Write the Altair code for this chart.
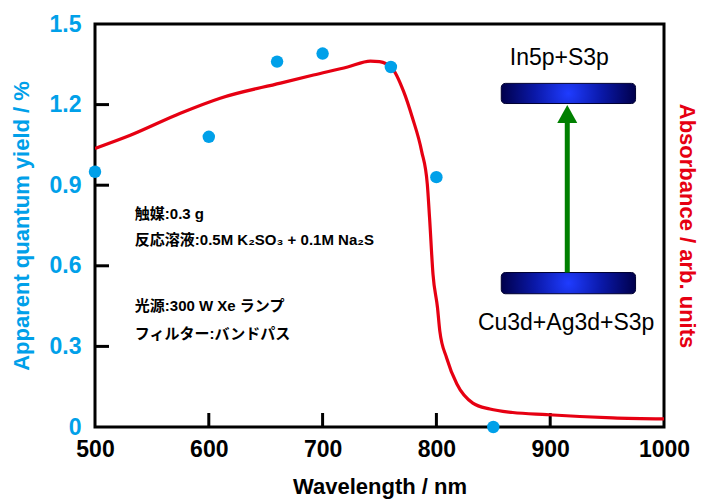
import altair as alt
import pandas as pd

# ---------------- data ----------------
qy_wavelength = [500, 600, 660, 700, 760, 800, 850]
qy_values = [0.95, 1.08, 1.36, 1.39, 1.34, 0.93, 0.0]

abs_wavelength = [500, 531, 575, 610, 663, 692, 722, 742, 750, 761, 771, 779, 787, 792,
                  794, 797, 801, 803, 809, 818, 832, 847, 867, 897, 926, 955, 1000]
abs_values = [1.037, 1.086, 1.168, 1.224, 1.28, 1.31, 1.34, 1.362, 1.36, 1.336, 1.251,
              1.150, 1.027, 0.904, 0.778, 0.569, 0.443, 0.357, 0.257, 0.160, 0.089,
              0.067, 0.054, 0.046, 0.039, 0.034, 0.030]

x_ticks = [500, 600, 700, 800, 900, 1000]
y_ticks = [0, 0.3, 0.6, 0.9, 1.2, 1.5]

conditions = ["触媒:0.3 g", "反応溶液:0.5M K₂SO₃ + 0.1M Na₂S",
              "光源:300 W Xe ランプ", "フィルター:バンドパス"]
level_labels = ["In5p+S3p", "Cu3d+Ag3d+S3p"]

# annotation geometry (data coordinates)
cond_x = 535
cond_y = [0.792, 0.695, 0.449, 0.348]
label_x = [908, 914]
label_y = [1.373, 0.388]
bar_x = [857, 975]
bar_y_low = [1.204, 0.496]
bar_y_high = [1.279, 0.575]
arrow_x = 915
arrow_y = [0.575, 1.14]
head_y = 1.165

BLUE = "#00a0e9"
RED = "#e60012"
GREEN = "#008000"
FONT = "Liberation Sans"
JFONT = "Liberation Sans, Noto Sans CJK JP"

W, H = 569, 403

xscale = alt.Scale(domain=[500, 1000], nice=False, zero=False)
yscale = alt.Scale(domain=[0, 1.5], nice=False, zero=False)

x_axis = alt.Axis(values=x_ticks, format="d", labelFlush=False, domain=False, ticks=False,
                  grid=False, labelFont=FONT, labelFontSize=23, labelFontWeight="bold",
                  labelColor="black", labelPadding=11, labelOverlap=False,
                  title="Wavelength / nm", titleFont=FONT, titleFontSize=22,
                  titleFontWeight="bold", titleColor="black", titleY=59,
                  titleBaseline="middle", titleX=W / 2, titleAlign="center")

y_left_axis = alt.Axis(orient="left", values=y_ticks, format="~g", domain=False, ticks=False,
                       grid=False, labelFont=FONT, labelFontSize=23, labelFontWeight="bold",
                       labelColor=BLUE, labelPadding=14, labelOverlap=False, labelFlush=False,
                       title="Apparent quantum yield / %", titleFont=FONT, titleFontSize=22,
                       titleFontWeight="bold", titleColor=BLUE, titleX=-74, titleY=H / 2,
                       titleBaseline="middle", titleAlign="center")

y_right_axis = alt.Axis(orient="right", labels=False, domain=False, ticks=False, grid=False,
                        title="Absorbance / arb. units", titleFont=FONT, titleFontSize=22,
                        titleFontWeight="bold", titleColor=RED, titleAngle=90, titleX=22,
                        titleY=H / 2, titleBaseline="middle", titleAlign="center")


def X(field):
    return alt.X(field, scale=xscale, axis=x_axis)


qy_df = pd.DataFrame({"wl": qy_wavelength, "qy": qy_values})
abs_df = pd.DataFrame({"wl": abs_wavelength, "a": abs_values})

line = alt.Chart(abs_df).mark_line(color=RED, strokeWidth=3.2, interpolate="monotone", clip=True).encode(
    x=X("wl:Q"),
    y=alt.Y("a:Q", scale=yscale, axis=y_right_axis),
)

points = alt.Chart(qy_df).mark_circle(color=BLUE, size=155, opacity=1).encode(
    x=X("wl:Q"),
    y=alt.Y("qy:Q", scale=yscale, axis=y_left_axis),
)

ytick_df = pd.DataFrame({"v": y_ticks[1:-1]})
yticks = alt.Chart(ytick_df).mark_rule(color="black", strokeWidth=3).encode(
    x=alt.value(0), x2=alt.value(14),
    y=alt.Y("v:Q", scale=yscale, axis=None),
)
xtick_df = pd.DataFrame({"v": x_ticks[1:-1]})
xticks = alt.Chart(xtick_df).mark_rule(color="black", strokeWidth=3).encode(
    x=X("v:Q"),
    y=alt.value(H), y2=alt.value(H - 14),
)

cond_df = pd.DataFrame({"t": conditions, "x": [cond_x] * len(conditions), "y": cond_y})
cond_text = alt.Chart(cond_df).mark_text(font=JFONT, fontSize=15, fontWeight="bold",
                                         align="left", baseline="middle", color="black").encode(
    x=X("x:Q"),
    y=alt.Y("y:Q", scale=yscale, axis=None),
    text="t:N",
)

bar_df = pd.DataFrame({"x": [bar_x[0]] * 2, "x2": [bar_x[1]] * 2, "y": bar_y_low, "y2": bar_y_high})
bars = alt.Chart(bar_df).mark_rect(
    fill=alt.RadialGradient(gradient="radial", stops=[
        alt.GradientStop(offset=0, color="#1f3cff"),
        alt.GradientStop(offset=0.5, color="#0a18a8"),
        alt.GradientStop(offset=1, color="#00004c"),
    ]),
    stroke="#000030", strokeWidth=1, cornerRadius=4,
).encode(
    x=X("x:Q"), x2="x2:Q",
    y=alt.Y("y:Q", scale=yscale, axis=None), y2="y2:Q",
)

shaft_df = pd.DataFrame({"x": [arrow_x], "y": [arrow_y[0]], "y2": [arrow_y[1]]})
shaft = alt.Chart(shaft_df).mark_rule(color=GREEN, strokeWidth=5).encode(
    x=X("x:Q"),
    y=alt.Y("y:Q", scale=yscale, axis=None), y2="y2:Q",
)
head_df = pd.DataFrame({"x": [arrow_x], "y": [head_y]})
head = alt.Chart(head_df).mark_point(shape="M0,-0.9L1,0.9L-1,0.9Z", size=400, filled=True,
                                      color=GREEN, opacity=1, strokeWidth=0).encode(
    x=X("x:Q"),
    y=alt.Y("y:Q", scale=yscale, axis=None),
)

lab_df = pd.DataFrame({"t": level_labels, "x": label_x, "y": label_y})
labels = alt.Chart(lab_df).mark_text(font=FONT, fontSize=23, align="center", baseline="middle",
                                     color="black").encode(
    x=X("x:Q"),
    y=alt.Y("y:Q", scale=yscale, axis=None),
    text="t:N",
)

chart = alt.layer(
    yticks, xticks, cond_text, bars, shaft, head, labels, line, points
).resolve_axis(y="independent").properties(
    width=W, height=H,
    autosize=alt.AutoSizeParams(type="none"),
    padding={"left": 87, "top": 16, "right": 35, "bottom": 72},
).configure_view(stroke="black", strokeWidth=3)

chart.save("out.html", embed_options={"renderer": "svg", "actions": False})
